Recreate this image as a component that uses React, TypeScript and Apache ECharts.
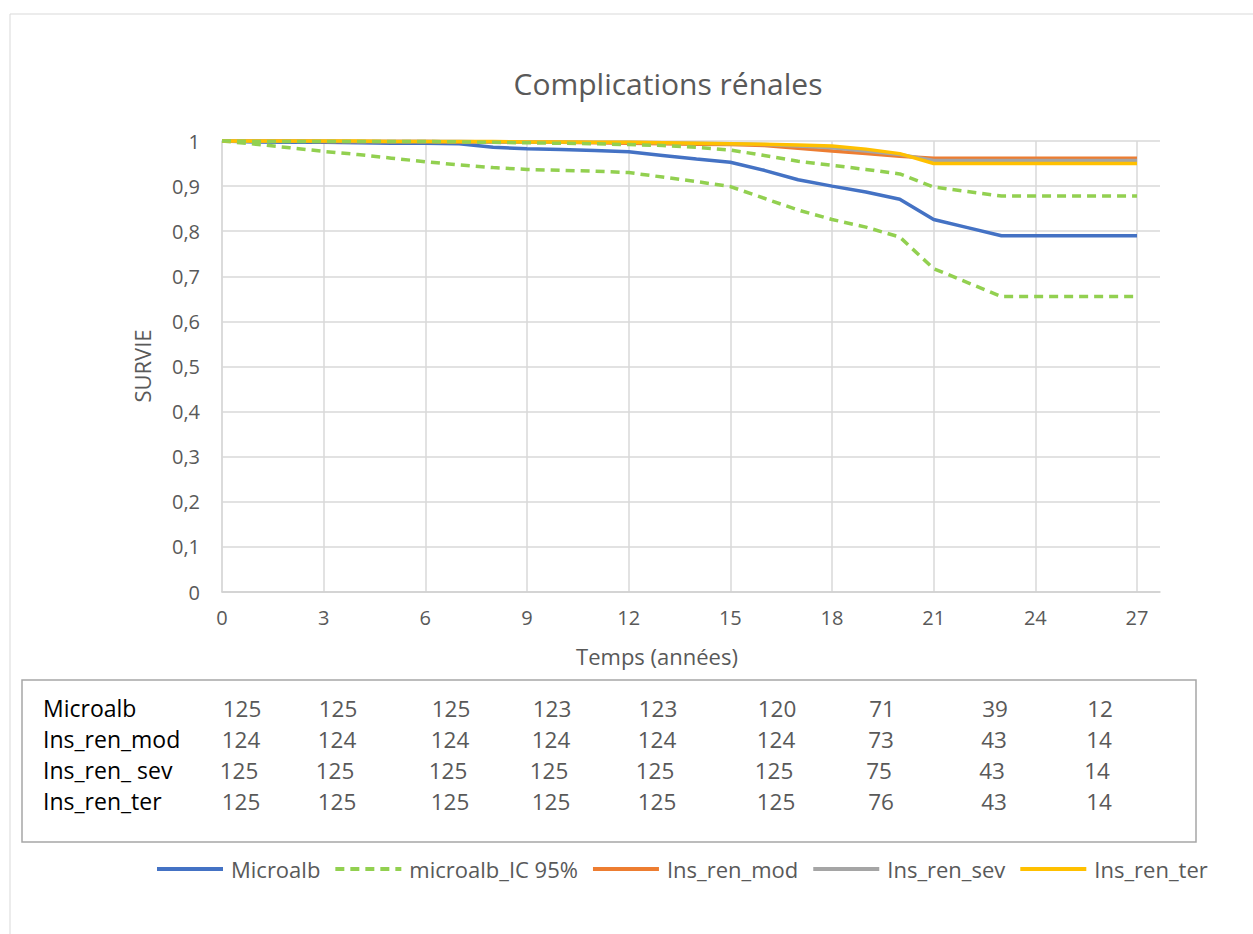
import React, { useEffect, useRef } from "react";
import * as echarts from "echarts";

const YEARS = [0, 1, 2, 3, 4, 5, 6, 7, 8, 9, 10, 11, 12, 13, 14, 15, 16, 17, 18, 19, 20, 21, 22, 23, 24, 25, 26, 27];

const MICROALB = [1, 0.998, 0.997, 0.997, 0.996, 0.995, 0.995, 0.994, 0.986, 0.983, 0.981, 0.979, 0.976, 0.968, 0.96, 0.953, 0.935, 0.914, 0.9, 0.887, 0.871, 0.826, 0.808, 0.79, 0.79, 0.79, 0.79, 0.79];
const IC_LOW = [1, 0.993, 0.985, 0.977, 0.97, 0.962, 0.954, 0.947, 0.941, 0.937, 0.935, 0.933, 0.93, 0.92, 0.91, 0.899, 0.873, 0.847, 0.826, 0.809, 0.787, 0.717, 0.686, 0.655, 0.655, 0.655, 0.655, 0.655];
const IC_HIGH = [1, 0.999, 0.999, 0.999, 0.999, 0.999, 0.999, 0.998, 0.997, 0.996, 0.995, 0.994, 0.992, 0.99, 0.986, 0.98, 0.968, 0.955, 0.946, 0.937, 0.927, 0.898, 0.888, 0.878, 0.878, 0.878, 0.878, 0.878];
const INS_MOD = [1, 1, 1, 0.999, 0.999, 0.999, 0.999, 0.998, 0.998, 0.997, 0.997, 0.996, 0.995, 0.994, 0.993, 0.992, 0.99, 0.984, 0.978, 0.972, 0.966, 0.962, 0.962, 0.962, 0.962, 0.962, 0.962, 0.962];
const INS_SEV = [1, 1, 1, 1, 0.999, 0.999, 0.999, 0.999, 0.998, 0.998, 0.998, 0.997, 0.997, 0.996, 0.995, 0.994, 0.992, 0.989, 0.985, 0.978, 0.97, 0.957, 0.957, 0.957, 0.957, 0.957, 0.957, 0.957];
const INS_TER = [1, 1, 1, 1, 1, 0.999, 0.999, 0.999, 0.999, 0.998, 0.998, 0.997, 0.997, 0.996, 0.995, 0.994, 0.993, 0.991, 0.989, 0.982, 0.972, 0.95, 0.95, 0.95, 0.95, 0.95, 0.95, 0.95];

const TABLE_ROWS = ["Microalb", "Ins_ren_mod", "Ins_ren_ sev", "Ins_ren_ter"];
const TABLE_COUNTS = [
  [125, 125, 125, 123, 123, 120, 71, 39, 12],
  [124, 124, 124, 124, 124, 124, 73, 43, 14],
  [125, 125, 125, 125, 125, 125, 75, 43, 14],
  [125, 125, 125, 125, 125, 125, 76, 43, 14],
];

const TITLE = "Complications rénales";
const Y_TITLE = "SURVIE";
const X_TITLE = "Temps (années)";
const LEGEND_NAMES = ["Microalb", "microalb_IC 95%", "Ins_ren_mod", "Ins_ren_sev", "Ins_ren_ter"];

// layout (positions only)
const COL_X = [242, 338, 451, 552, 658, 777, 882, 995, 1100];
const ROW_SHIFT = [0, -1, -3, -1];
const ROW_Y = [708, 739, 770, 801];

const FONT = "'Open Sans', 'DejaVu Sans', sans-serif";
const GRAY_TEXT = "#595959";
const DASH_ICON = "path://M0,0h9v4h-9z M15,0h9v4h-9z M30,0h9v4h-9z M45,0h9v4h-9z M60,0h6v4h-6z";

function pairs(vals: number[]) {
  return vals.map((v, i) => [YEARS[i], v]);
}

export default function App() {
  const ref = useRef<HTMLDivElement>(null);
  useEffect(() => {
    if (!ref.current) return;
    const chart = echarts.init(ref.current, undefined, { renderer: "svg" });

    const tableGraphics: any[] = [
      {
        type: "rect",
        shape: { x: 22, y: 680, width: 1174, height: 162 },
        style: { fill: "#fff", stroke: "#a6a6a6", lineWidth: 1.5 },
      },
    ];
    TABLE_ROWS.forEach((name, r) => {
      tableGraphics.push({
        type: "text",
        x: 43,
        y: ROW_Y[r],
        style: { text: name, font: `23px ${FONT}`, fill: "#000", textAlign: "left", textVerticalAlign: "middle" },
      });
      TABLE_COUNTS[r].forEach((n, c) => {
        tableGraphics.push({
          type: "text",
          x: COL_X[c] + ROW_SHIFT[r],
          y: ROW_Y[r],
          style: { text: String(n), font: `22.5px ${FONT}`, fill: GRAY_TEXT, textAlign: "center", textVerticalAlign: "middle" },
        });
      });
    });

    const lineBase = { type: "line", xAxisIndex: 1, yAxisIndex: 1, symbol: "none", showSymbol: false, clip: false, smooth: false };

    const option: any = {
      animation: false,
      backgroundColor: "#fff",
      textStyle: { fontFamily: FONT },
      grid: [
        { left: 222, top: 141, width: 938, height: 451, containLabel: false },
        { left: 222, top: 141, width: 915, height: 451, containLabel: false },
      ],
      xAxis: [
        {
          type: "value",
          gridIndex: 0,
          min: 0,
          max: 27.68,
          axisLine: { show: true, lineStyle: { color: "#cfcfcf", width: 1.5 } },
          axisTick: { show: false },
          axisLabel: { show: false },
          splitLine: { show: false },
        },
        {
          type: "value",
          gridIndex: 1,
          min: 0,
          max: 27,
          interval: 3,
          axisLine: { show: false },
          axisTick: { show: false },
          axisLabel: { show: true, color: GRAY_TEXT, fontSize: 20, fontFamily: FONT, margin: 15 },
          splitLine: { show: true, lineStyle: { color: "#d9d9d9", width: 1.5 } },
        },
      ],
      yAxis: [
        {
          type: "value",
          gridIndex: 0,
          min: 0,
          max: 1,
          interval: 0.1,
          axisLine: { show: true, lineStyle: { color: "#d9d9d9", width: 1.5 } },
          axisTick: { show: false },
          axisLabel: {
            color: GRAY_TEXT,
            fontSize: 20,
            fontFamily: FONT,
            margin: 22,
            formatter: (v: number) => (v === 0 ? "0" : v === 1 ? "1" : v.toFixed(1).replace(".", ",")),
          },
          splitLine: { show: true, lineStyle: { color: "#d9d9d9", width: 1.5 } },
        },
        {
          type: "value",
          gridIndex: 1,
          min: 0,
          max: 1,
          show: false,
        },
      ],
      legend: {
        left: 157,
        top: 858,
        padding: 0,
        itemWidth: 66,
        itemHeight: 4,
        itemGap: 15,
        textStyle: { color: GRAY_TEXT, fontSize: 22, fontFamily: FONT, padding: [0, 0, 0, 3] },
        data: LEGEND_NAMES.map((n) => ({ name: n, icon: n === "microalb_IC 95%" ? DASH_ICON : "rect" })),
      },
      series: [
        { ...lineBase, name: "Microalb", data: pairs(MICROALB), lineStyle: { color: "#4472C4", width: 3.5 }, itemStyle: { color: "#4472C4" } },
        { ...lineBase, name: "microalb_IC 95%", data: pairs(IC_LOW), lineStyle: { color: "#92D050", width: 3.5, type: [9, 6] }, itemStyle: { color: "#92D050" } },
        { ...lineBase, name: "Ins_ren_mod", data: pairs(INS_MOD), lineStyle: { color: "#ED7D31", width: 3.5 }, itemStyle: { color: "#ED7D31" } },
        { ...lineBase, name: "Ins_ren_sev", data: pairs(INS_SEV), lineStyle: { color: "#A5A5A5", width: 3.5 }, itemStyle: { color: "#A5A5A5" } },
        { ...lineBase, name: "Ins_ren_ter", data: pairs(INS_TER), lineStyle: { color: "#FFC000", width: 3.5 }, itemStyle: { color: "#FFC000" } },
        { ...lineBase, name: "microalb_IC 95%", data: pairs(IC_HIGH), lineStyle: { color: "#92D050", width: 3.5, type: [9, 6] }, itemStyle: { color: "#92D050" } },
      ],
      graphic: [
        {
          type: "rect",
          silent: true,
          z: -10,
          shape: { x: 10, y: 14, width: 1260, height: 940 },
          style: { fill: "none", stroke: "#d9d9d9", lineWidth: 1 },
        },
        {
          type: "text",
          x: 668,
          y: 83,
          style: { text: TITLE, font: `30px ${FONT}`, fill: GRAY_TEXT, textAlign: "center", textVerticalAlign: "middle" },
        },
        {
          type: "text",
          x: 142,
          y: 366,
          rotation: Math.PI / 2,
          style: { text: Y_TITLE, font: `22px ${FONT}`, fill: GRAY_TEXT, textAlign: "center", textVerticalAlign: "middle" },
        },
        {
          type: "text",
          x: 657,
          y: 656,
          style: { text: X_TITLE, font: `22px ${FONT}`, fill: GRAY_TEXT, textAlign: "center", textVerticalAlign: "middle" },
        },
        ...tableGraphics,
      ],
    };
    chart.setOption(option);
    return () => chart.dispose();
  }, []);

  return <div ref={ref} style={{ position: "absolute", left: 0, top: 0, width: 1253, height: 934 }} />;
}
